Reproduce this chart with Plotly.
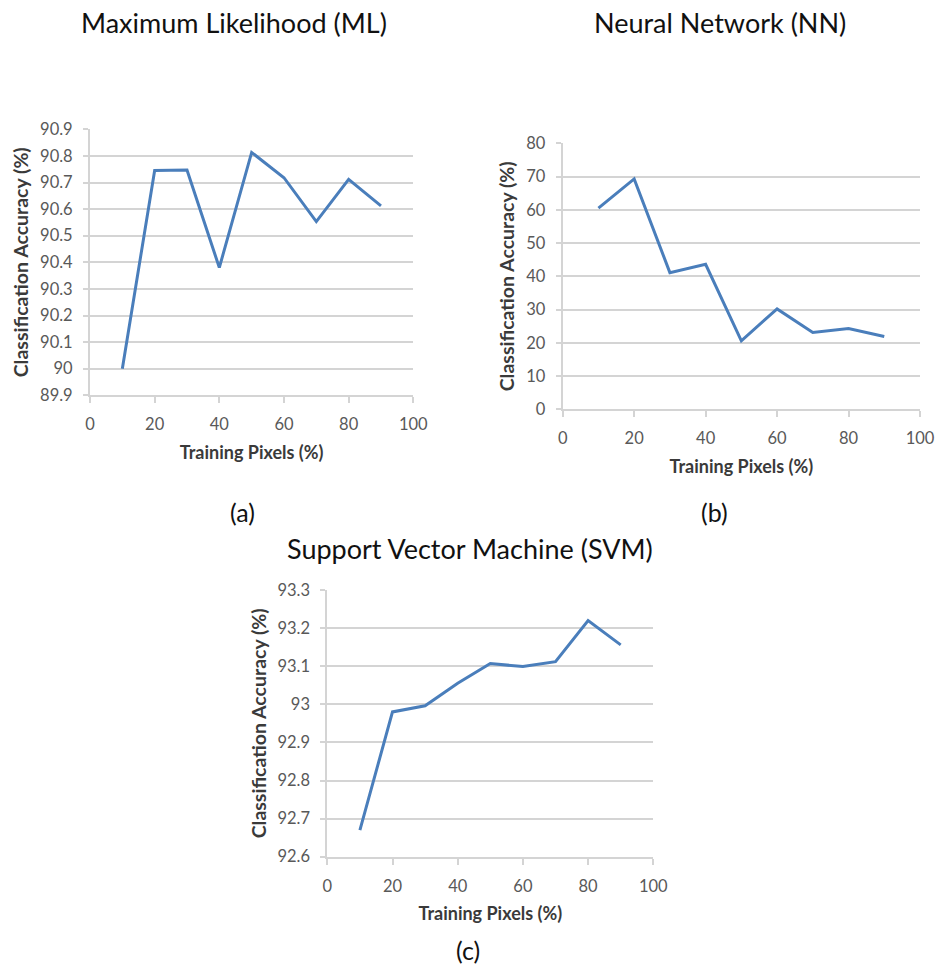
import plotly.graph_objects as go

W, H = 938, 970

training_pixels = [10, 20, 30, 40, 50, 60, 70, 80, 90]
ml_accuracy = [90.0, 90.745, 90.747, 90.38, 90.813, 90.718, 90.553, 90.712, 90.612]
nn_accuracy = [60.5, 69.3, 41.1, 43.6, 20.6, 30.2, 23.1, 24.3, 21.9]
svm_accuracy = [92.67, 92.98, 92.996, 93.055, 93.107, 93.099, 93.112, 93.22, 93.156]

panel_titles = ["Maximum Likelihood (ML)", "Neural Network (NN)", "Support Vector Machine (SVM)"]
captions = ["(a)", "(b)", "(c)"]
x_title = "Training Pixels (%)"
y_title = "Classification Accuracy (%)"

ml_range, ml_dtick = [89.9, 90.9], 0.1
nn_range, nn_dtick = [0, 80], 10
svm_range, svm_dtick = [92.6, 93.3], 0.1
x_range, x_dtick = [0, 100], 20

LINE = "#4A7EBB"
GRID = "#D4D4D4"
TICKC = "#595959"
TITLEC = "#3A3A3A"
FONT = "Lato"


def px(x):
    return x / W


def py(y):
    return 1 - y / H


# plot-area boxes in window pixels: (left, right, top, bottom)
boxes = [(90, 413.3, 129.3, 395.3), (562.7, 920, 143.3, 409.3), (327.3, 653.3, 590, 856.7)]
ranges = [(ml_range, ml_dtick), (nn_range, nn_dtick), (svm_range, svm_dtick)]
series = [ml_accuracy, nn_accuracy, svm_accuracy]

fig = go.Figure()
layout = dict(
    width=W, height=H, margin=dict(l=0, r=0, t=0, b=0, autoexpand=False),
    paper_bgcolor="white", plot_bgcolor="white", showlegend=False,
    font=dict(family=FONT, color=TICKC),
)

for i, (box, (yr, ydt), ys) in enumerate(zip(boxes, ranges, series)):
    n = "" if i == 0 else str(i + 1)
    fig.add_trace(go.Scatter(x=training_pixels, y=ys, mode="lines",
                             line=dict(color=LINE, width=3),
                             xaxis="x" + n, yaxis="y" + n))
    l, r, t, b = box
    layout["xaxis" + n] = dict(
        domain=[px(l), px(r)], range=x_range, dtick=x_dtick, tick0=0,
        anchor="y" + n, showgrid=False, zeroline=False, automargin=False,
        showline=True, linecolor=GRID, linewidth=2,
        ticks="outside", ticklen=6, tickcolor=GRID, tickwidth=2,
        ticklabelstandoff=7,
        tickfont=dict(size=16.5, color=TICKC, family=FONT),
        title=dict(text="<b>" + x_title + "</b>", font=dict(size=18, color=TITLEC, family=FONT), standoff=13),
    )
    layout["yaxis" + n] = dict(
        domain=[py(b), py(t)], range=yr, dtick=ydt, tick0=yr[0],
        anchor="x" + n, showgrid=True, gridcolor=GRID, gridwidth=2,
        zeroline=False, showline=True, linecolor=GRID, linewidth=2, automargin=False,
        ticks="outside", ticklen=5, tickcolor=GRID, tickwidth=2,
        ticklabelstandoff=7,
        tickfont=dict(size=16.5, color=TICKC, family=FONT),
        title=dict(text="<b>" + y_title + "</b>", font=dict(size=19.5, color=TITLEC, family=FONT), standoff=6),
    )

annotations = []
title_pos = [(234, 22), (720, 22), (470, 548)]
for txt, (x, y) in zip(panel_titles, title_pos):
    annotations.append(dict(text=txt, x=px(x), y=py(y), xref="paper", yref="paper",
                            showarrow=False, xanchor="center", yanchor="middle",
                            font=dict(size=27, color="#111111", family=FONT)))
cap_pos = [(243, 512), (714, 512), (468, 950)]
for txt, (x, y) in zip(captions, cap_pos):
    annotations.append(dict(text=txt, x=px(x), y=py(y), xref="paper", yref="paper",
                            showarrow=False, xanchor="center", yanchor="middle",
                            font=dict(size=25, color="#111111", family=FONT)))
layout["annotations"] = annotations

fig.update_layout(**layout)
fig.write_html("out.html",
               config={"displayModeBar": False},
               post_script="document.body.style.margin='0';document.body.style.overflow='hidden';")
